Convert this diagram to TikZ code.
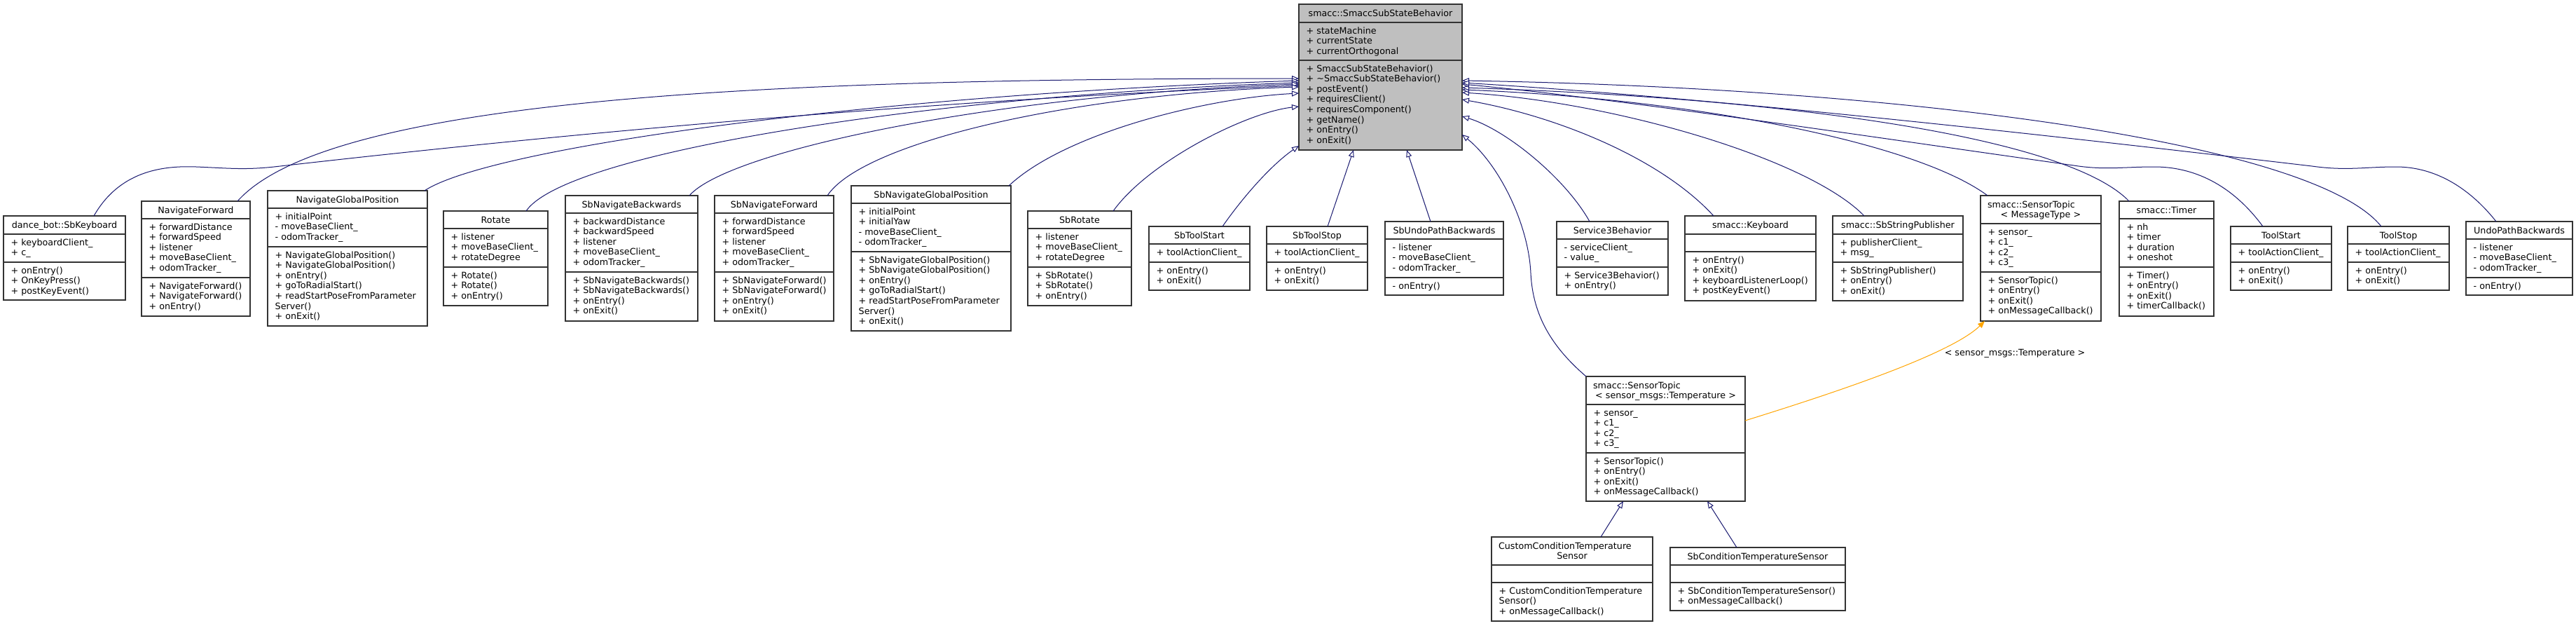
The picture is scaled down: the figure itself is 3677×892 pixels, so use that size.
\documentclass[tikz,border=0pt]{standalone}
\usepackage{fontspec}
\setmainfont{DejaVu Sans}
\usetikzlibrary{arrows.meta}
\definecolor{edgeblue}{HTML}{191970}
\definecolor{orangeedge}{HTML}{FFA500}
\definecolor{basefill}{HTML}{BFBFBF}
\newcommand\ts{\rule[-2.8pt]{0pt}{14.6pt}}
\def\clsfill{white}
\tikzset{
  clsbox/.style={draw=black!80, line width=1.2pt, inner sep=0pt, outer sep=0pt, rectangle},
  sepline/.style={draw=black!80, line width=1.2pt},
  memtext/.style={anchor=north west, inner sep=0pt, align=left, font=\fontsize{12.7}{14.6}\selectfont},
  titletext/.style={anchor=center, inner sep=0pt, align=center, font=\fontsize{12.7}{14.6}\selectfont},
  inh/.style={draw=edgeblue, line width=1pt, -{Triangle[fill=white, length=10pt, width=8pt]}},
  tmpl/.style={draw=orangeedge, line width=1pt, -{Triangle[fill=orangeedge, length=10pt, width=8pt]}},
  lbltext/.style={inner sep=0pt, font=\fontsize{12.7}{14.6}\selectfont},
}
% \cls{name}{x1}{y1}{x2}{y2}{sep1}{sep2}{title}{attributes}{methods}
\newcommand\cls[7]{%
  \def\clsdo##1##2##3{%
    \pgfmathsetmacro\clsW{#4-#2}%
    \pgfmathsetmacro\clsH{#5-#3}%
    \pgfmathsetmacro\clsTW{#4-#2-20}%
    \node[clsbox, fill=\clsfill, minimum width=\clsW pt, minimum height=\clsH pt] (#1) at ({(#2+#4)/2},{(#3+#5)/2}) {};
    \draw[sepline] (#2,#6) -- (#4,#6);
    \draw[sepline] (#2,#7) -- (#4,#7);
    \node[titletext, text width=\clsTW pt] (#1-t) at ({(#2+#4)/2},{(#3+#6)/2}) {\ts ##1};
    \node[memtext] (#1-a) at (#2+10.5,#6+4) {\ts##2};
    \node[memtext] (#1-m) at (#2+10.5,#7+4) {\ts##3};
  }\clsdo}
\begin{document}
\begin{tikzpicture}[x=1pt,y=-1pt]
\fill[white] (0,0) rectangle (3677,892);

% base class
\def\clsfill{basefill}
\cls{base}{1854}{6}{2087}{214}{32}{86}
 {smacc::SmaccSubStateBehavior}
 {+ stateMachine\\+ currentState\\+ currentOrthogonal}
 {+ SmaccSubStateBehavior()\\+ \textasciitilde SmaccSubStateBehavior()\\+ postEvent()\\+ requiresClient()\\+ requiresComponent()\\+ getName()\\+ onEntry()\\+ onExit()}
\def\clsfill{white}

% rank 1
\cls{dance}{5}{308}{179}{428}{334}{374}
 {dance\_bot::SbKeyboard}
 {+ keyboardClient\_\\+ c\_}
 {+ onEntry()\\+ OnKeyPress()\\+ postKeyEvent()}
\cls{navfwd}{202}{287}{357}{451}{312}{396}
 {NavigateForward}
 {+ forwardDistance\\+ forwardSpeed\\+ listener\\+ moveBaseClient\_\\+ odomTracker\_}
 {+ NavigateForward()\\+ NavigateForward()\\+ onEntry()}
\cls{ngp}{382}{272}{610}{465}{297}{352}
 {NavigateGlobalPosition}
 {+ initialPoint\\- moveBaseClient\_\\- odomTracker\_}
 {+ NavigateGlobalPosition()\\+ NavigateGlobalPosition()\\+ onEntry()\\+ goToRadialStart()\\+ readStartPoseFromParameter\\Server()\\+ onExit()}
\cls{rotate}{633}{301}{782}{436}{326}{381}
 {Rotate}
 {+ listener\\+ moveBaseClient\_\\+ rotateDegree}
 {+ Rotate()\\+ Rotate()\\+ onEntry()}
\cls{sbnb}{807}{279}{996}{458}{304}{388}
 {SbNavigateBackwards}
 {+ backwardDistance\\+ backwardSpeed\\+ listener\\+ moveBaseClient\_\\+ odomTracker\_}
 {+ SbNavigateBackwards()\\+ SbNavigateBackwards()\\+ onEntry()\\+ onExit()}
\cls{sbnf}{1020}{279}{1190}{458}{304}{388}
 {SbNavigateForward}
 {+ forwardDistance\\+ forwardSpeed\\+ listener\\+ moveBaseClient\_\\+ odomTracker\_}
 {+ SbNavigateForward()\\+ SbNavigateForward()\\+ onEntry()\\+ onExit()}
\cls{sbngp}{1215}{265}{1443}{472}{290}{359}
 {SbNavigateGlobalPosition}
 {+ initialPoint\\+ initialYaw\\- moveBaseClient\_\\- odomTracker\_}
 {+ SbNavigateGlobalPosition()\\+ SbNavigateGlobalPosition()\\+ onEntry()\\+ goToRadialStart()\\+ readStartPoseFromParameter\\Server()\\+ onExit()}
\cls{sbrot}{1467}{301}{1615}{436}{326}{381}
 {SbRotate}
 {+ listener\\+ moveBaseClient\_\\+ rotateDegree}
 {+ SbRotate()\\+ SbRotate()\\+ onEntry()}
\cls{sbts}{1640}{323}{1784}{414}{348}{374}
 {SbToolStart}
 {+ toolActionClient\_}
 {+ onEntry()\\+ onExit()}
\cls{sbtp}{1808}{323}{1952}{414}{348}{374}
 {SbToolStop}
 {+ toolActionClient\_}
 {+ onEntry()\\+ onExit()}
\cls{sbundo}{1977}{316}{2146}{421}{341}{396}
 {SbUndoPathBackwards}
 {- listener\\- moveBaseClient\_\\- odomTracker\_}
 {- onEntry()}
\cls{sthree}{2222}{316}{2381}{421}{341}{381}
 {Service3Behavior}
 {- serviceClient\_\\- value\_}
 {+ Service3Behavior()\\+ onEntry()}
\cls{kbd}{2405}{308}{2592}{429}{334}{359}
 {smacc::Keyboard}
 {}
 {+ onEntry()\\+ onExit()\\+ keyboardListenerLoop()\\+ postKeyEvent()}
\cls{ssp}{2616}{308}{2802}{429}{334}{374}
 {smacc::SbStringPublisher}
 {+ publisherClient\_\\+ msg\_}
 {+ SbStringPublisher()\\+ onEntry()\\+ onExit()}
\cls{stmt}{2827}{279}{2999}{458}{319}{388}
 {smacc::SensorTopic\hskip0pt plus 1fill\null\\\ts < MessageType >}
 {+ sensor\_\\+ c1\_\\+ c2\_\\+ c3\_}
 {+ SensorTopic()\\+ onEntry()\\+ onExit()\\+ onMessageCallback()}
\cls{timer}{3025}{287}{3160}{451}{312}{381}
 {smacc::Timer}
 {+ nh\\+ timer\\+ duration\\+ oneshot}
 {+ Timer()\\+ onEntry()\\+ onExit()\\+ timerCallback()}
\cls{tstart}{3184}{323}{3328}{414}{348}{374}
 {ToolStart}
 {+ toolActionClient\_}
 {+ onEntry()\\+ onExit()}
\cls{tstop}{3351}{323}{3496}{414}{348}{374}
 {ToolStop}
 {+ toolActionClient\_}
 {+ onEntry()\\+ onExit()}
\cls{undo}{3520}{316}{3672}{421}{341}{396}
 {UndoPathBackwards}
 {- listener\\- moveBaseClient\_\\- odomTracker\_}
 {- onEntry()}

% rank 2 and 3
\cls{sttemp}{2264}{537}{2491}{715}{577}{646}
 {smacc::SensorTopic\hskip0pt plus 1fill\null\\\ts < sensor\_msgs::Temperature >}
 {+ sensor\_\\+ c1\_\\+ c2\_\\+ c3\_}
 {+ SensorTopic()\\+ onEntry()\\+ onExit()\\+ onMessageCallback()}
\cls{ccts}{2129}{766}{2359}{886}{806}{831}
 {CustomConditionTemperature\hskip0pt plus 1fill\null\\\ts Sensor}
 {}
 {+ CustomConditionTemperature\\Sensor()\\+ onMessageCallback()}
\cls{sbcts}{2384}{781}{2634}{871}{806}{831}
 {SbConditionTemperatureSensor}
 {}
 {+ SbConditionTemperatureSensor()\\+ onMessageCallback()}

% inheritance edges, left side
\draw[inh] (dance.north -| 134,0) .. controls (170,245) and (230,236) .. (280,238)
  .. controls (330,240) and (350,243) .. (400,237)
  .. controls (900,180) and (1400,140) .. (base.west |- 0,122);
\draw[inh] (navfwd.north -| 339,0) .. controls (470,140) and (1100,112) .. (base.west |- 0,112);
\draw[inh] (ngp.north -| 606,0) .. controls (700,210) and (1250,135) .. (base.west |- 0,115);
\draw[inh] (rotate.north -| 751,0) .. controls (810,215) and (1350,135) .. (base.west |- 0,118);
\draw[inh] (sbnb.north -| 984,0) .. controls (1040,215) and (1420,135) .. (base.west |- 0,120);
\draw[inh] (sbnf.north -| 1181,0) .. controls (1230,205) and (1520,135) .. (base.west |- 0,124);
\draw[inh] (sbngp.north -| 1440,0) .. controls (1520,190) and (1720,140) .. (base.west |- 0,133);
\draw[inh] (sbrot.north -| 1589,0) .. controls (1640,230) and (1780,160) .. (base.west |- 0,152);
\draw[inh] (sbts.north -| 1745,0) .. controls (1775,280) and (1815,235) .. (base.west |- 0,208);
% bottom
\draw[inh] (sbtp.north -| 1895,0) -- (base.south -| 1932,0);
\draw[inh] (sbundo.north -| 2042,0) -- (base.south -| 2008,0);
% right side
\draw[inh] (sttemp.north west) .. controls (2215,495) and (2188,450) .. (2185,390)
  .. controls (2182,320) and (2140,235) .. (base.east |- 0,192);
\draw[inh] (sthree.north -| 2269,0) .. controls (2235,255) and (2150,185) .. (base.east |- 0,166);
\draw[inh] (kbd.north -| 2446,0) .. controls (2370,225) and (2220,165) .. (base.east |- 0,142);
\draw[inh] (ssp.north -| 2661,0) .. controls (2580,225) and (2300,145) .. (base.east |- 0,132);
\draw[inh] (stmt.north -| 2837,0) .. controls (2730,200) and (2400,140) .. (base.east |- 0,128);
\draw[inh] (timer.north -| 3039,0) .. controls (2950,195) and (2550,140) .. (base.east |- 0,125);
\draw[inh] (tstart.north -| 3230,0) .. controls (3185,262) and (3130,238) .. (3075,238)
  .. controls (3030,238) and (3005,243) .. (2960,236)
  .. controls (2600,185) and (2300,140) .. (base.east |- 0,120);
\draw[inh] (tstop.north -| 3399,0) .. controls (3300,200) and (2700,125) .. (base.east |- 0,115);
\draw[inh] (undo.north -| 3563,0) .. controls (3520,262) and (3470,238) .. (3420,238)
  .. controls (3375,238) and (3350,244) .. (3300,237)
  .. controls (2900,190) and (2450,140) .. (base.east |- 0,118);

% lower inheritance
\draw[inh] (ccts.north -| 2285,0) -- (sttemp.south -| 2317,0);
\draw[inh] (sbcts.north -| 2479,0) -- (sttemp.south -| 2437,0);

% template instantiation
\draw[tmpl] (sttemp.east |- 0,600) .. controls (2620,560) and (2785,505) .. (stmt.south -| 2833,0);
\node[lbltext] (tmpllabel) at (2876,504) {< sensor\_msgs::Temperature >};
\end{tikzpicture}
\end{document}
